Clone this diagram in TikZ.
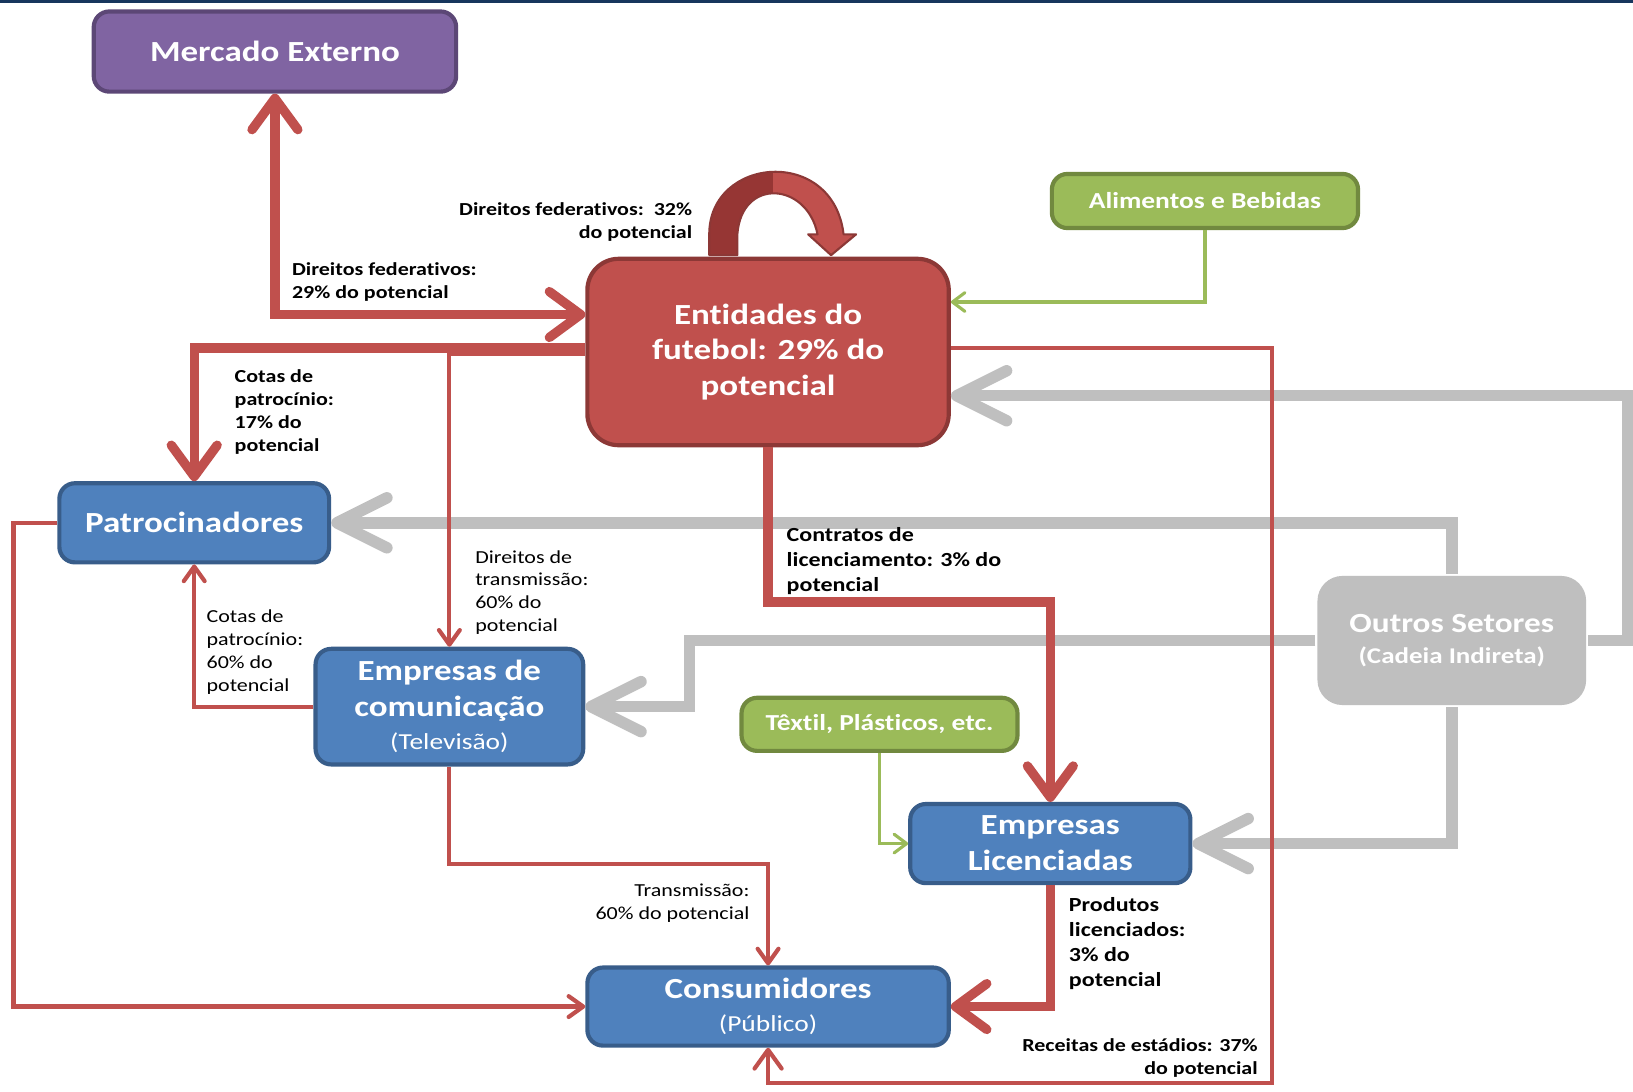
\documentclass[tikz,border=0pt]{standalone}
\usepackage{fontspec}
\setmainfont{Carlito}[FakeStretch=1.2, Ligatures={NoCommon,NoRare,NoContextual}]
\usetikzlibrary{arrows.meta,calc}
\definecolor{cred}{HTML}{C0504D}
\definecolor{credd}{HTML}{8C3836}
\definecolor{credk}{HTML}{963634}
\definecolor{cblue}{HTML}{4F81BD}
\definecolor{cblued}{HTML}{385D8A}
\definecolor{cpur}{HTML}{8064A2}
\definecolor{cpurd}{HTML}{5C4776}
\definecolor{cgreen}{HTML}{9BBB59}
\definecolor{cgreend}{HTML}{71893F}
\definecolor{cgray}{HTML}{BFBFBF}
\definecolor{ctop}{HTML}{17365D}
\newcommand\myTitleF{\fontsize{14}{17.25}\selectfont\bfseries}
\newcommand\mySubF{\fontsize{11}{13}\selectfont\mdseries}
\newcommand\myGreenF{\fontsize{11}{13}\selectfont\bfseries}
\newcommand\myLblB{\fontsize{8.8}{11}\selectfont\bfseries}
\newcommand\myLblR{\fontsize{8.8}{11}\selectfont}
\newcommand\myLblBB{\fontsize{9.6}{12}\selectfont\bfseries}
\newcommand\myLoopPath{(681,245) -- (681,225) .. controls (681,150) and (800,140) .. (810,225) -- (822,225) -- (798,245) -- (776,225) -- (785,225) .. controls (775,175) and (712,170) .. (708,225) -- (708,245) -- cycle}
\tikzset{
  tthick/.tip={Straight Barb[length=15pt,width=22pt,round]},
  tthin/.tip={Straight Barb[length=7pt,width=10pt,round]},
  tthinb/.tip={Straight Barb[length=9pt,width=13pt,round]},
  tgray/.tip={Straight Barb[length=24pt,width=24pt,round]},
  tgreen/.tip={Straight Barb[length=6pt,width=9pt,round]}
}
\begin{document}
\begin{tikzpicture}[x=0.5pt,y=-0.5pt,
  box/.style={rounded corners=7.5pt, line width=2pt, align=center, text=white, inner sep=0pt},
  bluebox/.style={box, fill=cblue, draw=cblued, font=\myTitleF},
  greenbox/.style={box, fill=cgreen, draw=cgreend, font=\myGreenF},
  thickred/.style={draw=cred, line width=4.5pt},
  thinred/.style={draw=cred, line width=2pt},
  grayline/.style={draw=cgray, line width=5.5pt},
  greenline/.style={draw=cgreen, line width=1.5pt},
  lbl/.style={inner sep=0pt, text=black}
]
\useasboundingbox (0,0) rectangle (1568,1047.6);
\fill[white] (0,0) rectangle (1568,1047.6);
\fill[ctop] (0,0) rectangle (1568,2.5);

% nodes
\node[box, fill=cpur, draw=cpurd, font=\myTitleF, minimum width=174pt, minimum height=38.5pt] (mer) at (264,49.5) {Mercado Externo};
\node[box, rounded corners=15pt, fill=cred, draw=credd, font=\myTitleF, minimum width=173.5pt, minimum height=89.5pt] (ent) at (737.5,338) {Entidades do\\futebol: 29\% do\\potencial};
\node[greenbox, minimum width=147pt, minimum height=26pt] (ali) at (1157,193) {Alimentos e Bebidas};
\node[bluebox, minimum width=129.5pt, minimum height=38pt] (pat) at (186.5,502) {Patrocinadores};
\node[bluebox, minimum width=128.5pt, minimum height=55.5pt] (com) at (431.5,678.5) {Empresas de\\comunicação\\[-1.5pt]{\mySubF (Televisão)}};
\node[greenbox, minimum width=132.5pt, minimum height=25.5pt] (tex) at (844.5,695.5) {Têxtil, Plásticos, etc.};
\node[bluebox, minimum width=134.5pt, minimum height=38pt] (lic) at (1008.5,810) {Empresas\\Licenciadas};
\node[bluebox, minimum width=173.5pt, minimum height=37.5pt] (con) at (737.5,966.5) {Consumidores\\[-1.5pt]{\mySubF (Público)}};
\node[box, rounded corners=12pt, fill=cgray, draw=none, font=\fontsize{13.3}{15}\selectfont\bfseries, minimum width=129pt, minimum height=62pt] (out) at (1394,615) {Outros Setores\\{\fontsize{10.8}{13}\selectfont (Cadeia Indireta)}};

% helper coordinates
\coordinate (yFed) at (0,302);
\coordinate (yCot) at (0,334);
\coordinate (yDir) at (0,340);
\coordinate (yLic) at (0,578);
\coordinate (yTra) at (0,830);
\coordinate (yRec) at (0,1040);
\coordinate (yAli) at (0,290);
\coordinate (yGEnt) at (0,380);
\coordinate (xL) at (13,0);
\coordinate (xR) at (1221,0);
\coordinate (xG) at (1563,0);
\coordinate (xC) at (662,0);

% gray connectors
\draw[grayline, -tgray] (out.east) -- (xG |- out.east) -- (xG |- yGEnt) -- (ent.east |- yGEnt);
\draw[grayline, -tgray] (out.north) -- (out.north |- pat.east) -- (pat.east);
\draw[grayline, -tgray] (out.west) -- (xC |- out.west) -- (xC |- com.east) -- (com.east);
\draw[grayline, -tgray] (out.south) -- (out.south |- lic.east) -- (lic.east);

% thick red connectors
\draw[thickred, tthick-tthick] (ent.west |- yFed) -- (mer.south |- yFed) -- (mer.south);
\draw[thickred, -tthick] (ent.west |- yCot) -- (pat.north |- yCot) -- (pat.north);
\draw[thickred, -tthick] (ent.south) -- (ent.south |- yLic) -- (lic.north |- yLic) -- (lic.north);
\draw[thickred, -tthick] (lic.south) -- (lic.south |- con.east) -- (con.east);

% thin red connectors
\draw[thinred, -tthin] (ent.west |- yDir) -- (com.north |- yDir) -- (com.north);
\draw[thinred, -tthin] (com.west) -- (pat.south |- com.west) -- (pat.south);
\draw[thinred, -tthin] (pat.west) -- (xL |- pat.west) -- (xL |- con.west) -- (con.west);
\draw[thinred, -tthin] (com.south) -- (com.south |- yTra) -- (con.north |- yTra) -- (con.north);
\draw[thinred, -tthinb] (ent.east |- yCot) -- (xR |- yCot) -- (xR |- yRec) -- (con.south |- yRec) -- (con.south);

% green connectors
\draw[greenline, -tgreen] (ali.south) -- (ali.south |- yAli) -- (ent.east |- yAli);
\draw[greenline, -tgreen] (tex.south) -- (tex.south |- lic.west) -- (lic.west);

% self loop
\fill[cred] \myLoopPath;
\begin{scope}
  \clip (600,100) rectangle (742,250);
  \fill[credk] \myLoopPath;
\end{scope}
\draw[credd, line width=1pt, line join=round] \myLoopPath;

% labels
\node[lbl, font=\myLblB, align=right, anchor=north east] (l1) at (665,194) {Direitos federativos:~~32\%\\do potencial};
\node[lbl, font=\myLblB, align=left, anchor=north west] (l2) at (280,252) {Direitos federativos:\\29\% do potencial};
\node[lbl, font=\myLblB, align=left, anchor=north west] (l3) at (225,355) {Cotas de\\patrocínio:\\17\% do\\potencial};
\node[lbl, font=\myLblR, align=left, anchor=north west] (l4) at (456,528) {Direitos de\\transmissão:\\60\% do\\potencial};
\node[lbl, font=\myLblR, align=left, anchor=north west] (l5) at (198,585) {Cotas de\\patrocínio:\\60\% do\\potencial};
\node[lbl, font=\myLblBB, align=left, anchor=north west] (l6) at (755,506) {Contratos de\\licenciamento: 3\% do\\potencial};
\node[lbl, font=\myLblR, align=right, anchor=north east] (l7) at (720,848) {Transmissão:\\60\% do potencial};
\node[lbl, font=\myLblBB, align=left, anchor=north west] (l8) at (1026,861) {Produtos\\licenciados:\\3\% do\\potencial};
\node[lbl, font=\myLblB, align=right, anchor=north east] (l9) at (1208,997) {Receitas de estádios: 37\%\\do potencial};
\end{tikzpicture}
\end{document}
